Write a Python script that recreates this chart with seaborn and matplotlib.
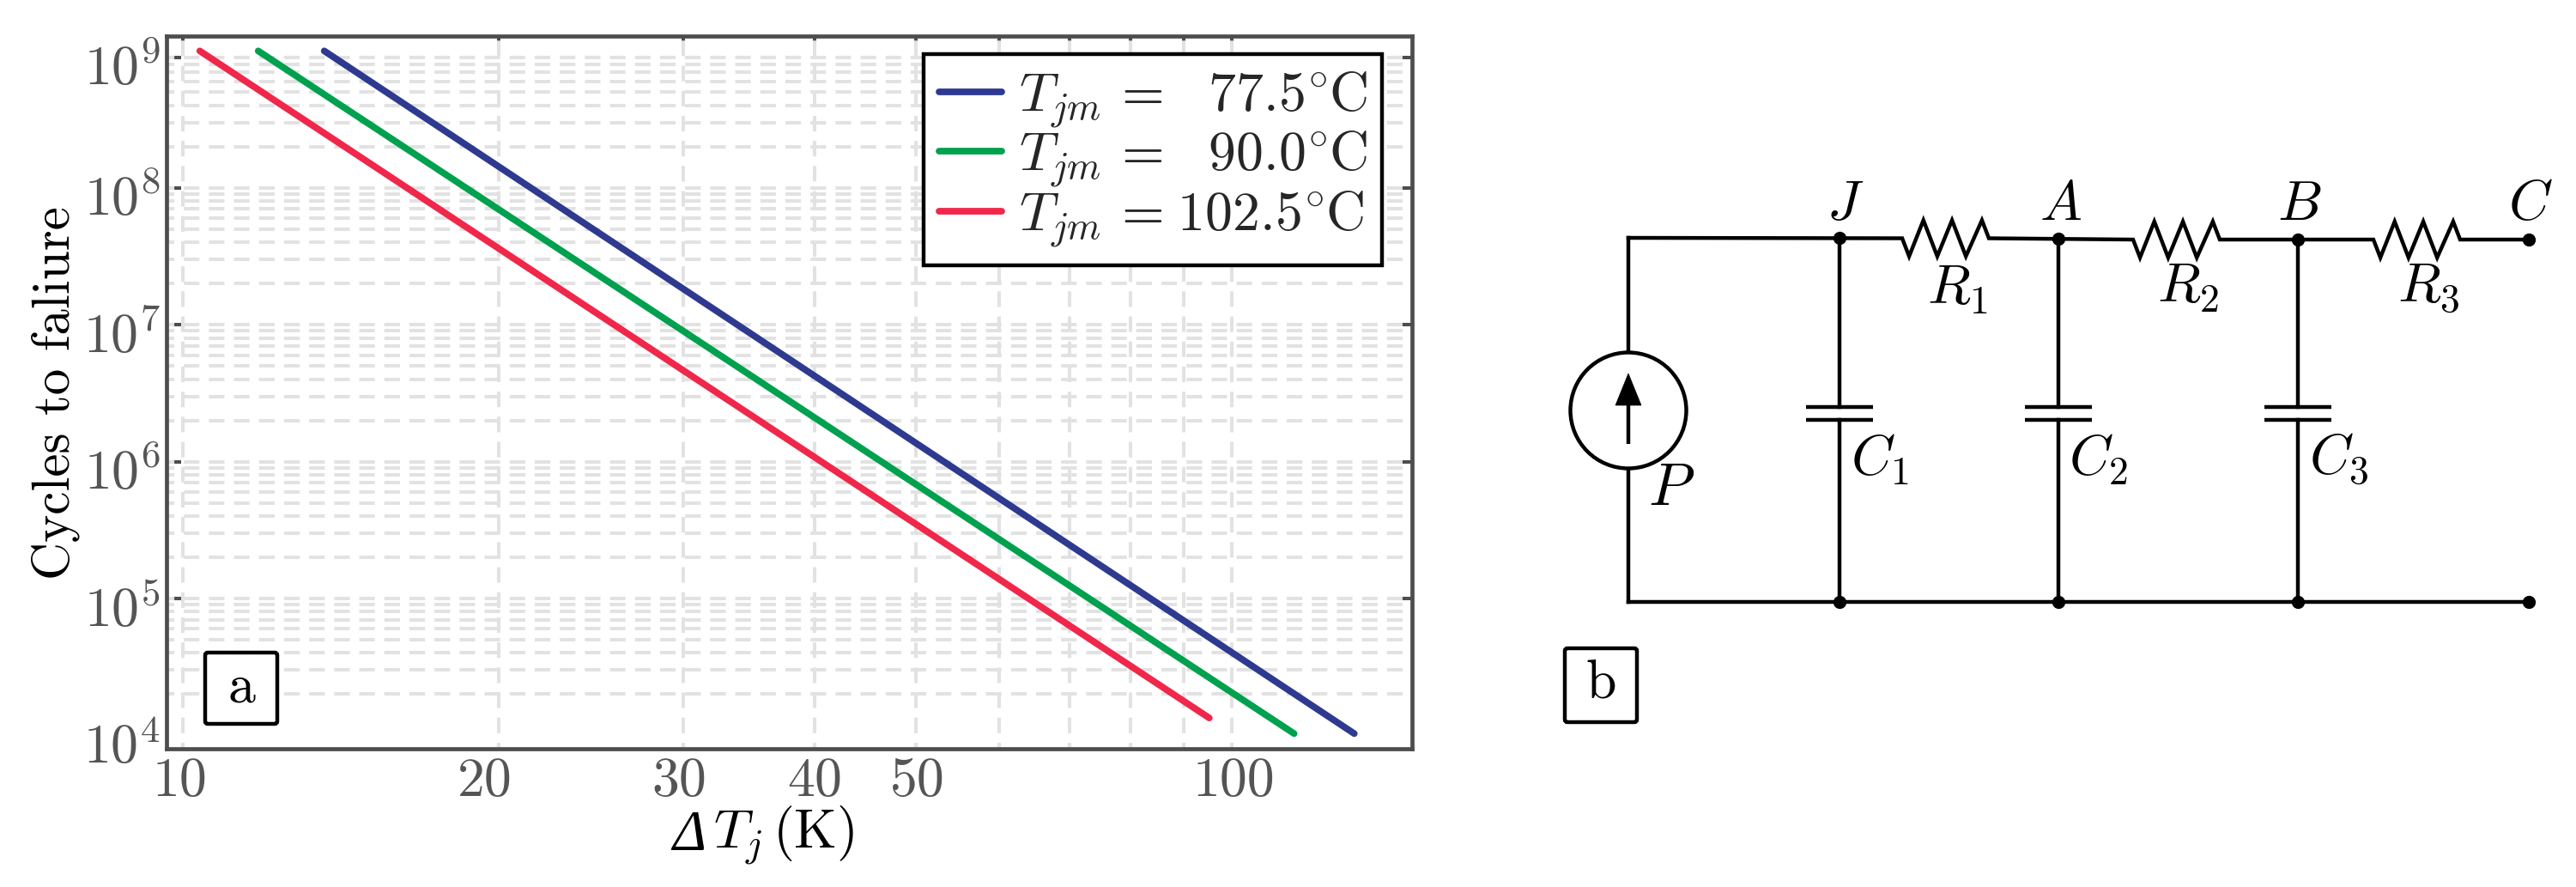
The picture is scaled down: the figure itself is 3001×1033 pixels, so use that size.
import numpy as np
import pandas as pd
import matplotlib
matplotlib.use("Agg")
import matplotlib.pyplot as plt
from matplotlib.patches import FancyBboxPatch, Circle, Polygon
from matplotlib.transforms import ScaledTranslation
import seaborn as sns

# ---- panel a data
series_names = [r"$T_{jm}\,=\hspace{0.72}77.5^{\circ}\hspace{-0.04}\mathrm{C}$",
                r"$T_{jm}\,=\hspace{0.72}90.0^{\circ}\hspace{-0.04}\mathrm{C}$",
                r"$T_{jm}\,=\hspace{0.08}102.5^{\circ}\hspace{-0.04}\mathrm{C}$"]
series_colors = ["#2e3a8f", "#00a14e", "#f0274a"]
dT_blue = [13.63, 130.9]
dT_green = [11.79, 114.7]
dT_red = [10.37, 95.2]
N_blue = [1.0e9, 1.03e4]
N_green = [1.0e9, 1.03e4]
N_red = [1.0e9, 1.34e4]

x_major = [10, 20, 30, 40, 50, 100]
x_major_labels = ["10", "20", "30", "40", "50", "100"]
x_label_shift_px = [-4, -16, -5, 0, 2, 2]
x_minor = [60, 70, 80, 90]
y_major = [9e8, 1e8, 1e7, 1e6, 1e5, 1e4]
y_major_labels = [r"$10^{9}$", r"$10^{8}$", r"$10^{7}$", r"$10^{6}$", r"$10^{5}$", r"$10^{4}$"]

# ---- panel b schematic nodes (pixel space of the figure)
W = 3001; H = 1033
node_x = {"L": 1897, "J": 2143, "A": 2398, "B": 2677, "C": 2946}
top_y = {"L": 277, "J": 277, "A": 278, "B": 279, "C": 279}
bottom_y = 701
plate_y = (474, 489)
res_spans = [(2216, 2317, 277.5), (2485, 2586, 279), (2765, 2866, 279)]

sns.set_theme(style="white")
plt.rcParams["mathtext.fontset"] = "cm"
plt.rcParams["font.family"] = ["cmr10", "DejaVu Sans"]
plt.rcParams["axes.unicode_minus"] = False
plt.rcParams["axes.formatter.use_mathtext"] = True

GREY = "#4d4d4d"
TICKTXT = "#555555"
FS = 46

fig = plt.figure(figsize=(W / 100, H / 100), dpi=100, facecolor="white")
ax = fig.add_axes([194 / W, 1 - 872.3 / H, (1645 - 194) / W, (872.3 - 42) / H])

df = pd.DataFrame({
    "dT": dT_blue + dT_green + dT_red,
    "N": N_blue + N_green + N_red,
    "series": [series_names[0]] * 2 + [series_names[1]] * 2 + [series_names[2]] * 2,
})
ax.set_xscale("log")
ax.set_yscale("log")
sns.lineplot(data=df, x="dT", y="N", hue="series", hue_order=series_names,
             palette=series_colors, estimator=None, sort=False, ax=ax,
             lw=5.6, solid_capstyle="round", zorder=5)
ax.set_xlim(9.64, 148.6)
ax.set_ylim(7.95e3, 1.284e9)

# ticks
ax.set_xticks(x_major, x_major_labels, fontsize=FS, color=TICKTXT)
ax.set_xticks(x_minor, minor=True)
ax.set_xticklabels([], minor=True)
ax.set_yticks(y_major, y_major_labels, fontsize=FS, color=TICKTXT)
ax.yaxis.set_minor_locator(matplotlib.ticker.FixedLocator([]))
ax.tick_params(axis="x", which="both", direction="in", length=4.5, width=2.9, color=GREY,
               top=True, bottom=True, pad=7)
ax.tick_params(axis="y", which="major", direction="in", length=12, width=2.9, color=GREY,
               left=True, right=True, pad=5)
for t in ax.yaxis.get_major_ticks():
    if abs(t.get_loc() - 1e4) < 1:
        t.tick1line.set_visible(False)
        t.tick2line.set_visible(False)

# per-label nudges seen in the reference
for lab, dx in zip(ax.get_xticklabels(), x_label_shift_px):
    lab.set_transform(lab.get_transform() + ScaledTranslation(dx / 100, 0, fig.dpi_scale_trans))
for lab in ax.get_yticklabels():
    lab.set_transform(lab.get_transform() + ScaledTranslation(0, -9 / 100, fig.dpi_scale_trans))

# dashed grid, drawn with the axes' own transforms
grid_kw = dict(color="#e2e2e2", lw=2.9, zorder=1, dash_capstyle="butt")
for d in range(4, 9):
    for m in range(2 if d == 4 else 1, 10):
        ax.axhline(m * 10.0 ** d, ls=(2.25, (4.5, 2.75)), **grid_kw)
for v in x_major + x_minor:
    ax.axvline(v, ls=(2.75, (4.5, 2.75)), **grid_kw)
ax.set_axisbelow(True)

for s in ax.spines.values():
    s.set_color(GREY)
    s.set_linewidth(3.4)

ax.set_ylabel("Cycles to faliure", fontsize=44, color="black", labelpad=2.5)
ax.set_xlabel("")

h, l = ax.get_legend_handles_labels()
for hh in h:
    hh.set_solid_capstyle("round")
    hh.set_linewidth(5.6)
leg = ax.legend(h, l, loc="upper left", bbox_to_anchor=((1076 - 194) / 1451, 1 - (63 - 42) / 830.3),
                fontsize=46, frameon=True, fancybox=False, framealpha=1, edgecolor="black",
                handlelength=1.15, handletextpad=0.3, labelspacing=-0.02, borderpad=0.28,
                borderaxespad=0)
leg.get_frame().set_linewidth(3.2)
leg.set_zorder(10)

# overlay in figure pixels for panel labels and the schematic
ov = fig.add_axes([0, 0, 1, 1], facecolor="none", zorder=20)
ov.set_xlim(0, W)
ov.set_ylim(H, 0)
ov.axis("off")

# x axis title: italic Delta followed by the math part
ov.text(803, 973, "\u0394", family=["Liberation Serif"], style="italic", fontsize=48,
        color="black", ha="center", va="center")
ov.text(831, 973, r"$T_j\,(\mathrm{K})$", fontsize=46, color="black", ha="left", va="center")

wire = dict(color="black", lw=3.2, solid_capstyle="projecting", solid_joinstyle="miter")
L, J, A, B, C = (node_x[k] for k in "LJABC")

# panel boxes
for (x0, y0, x1, y1, txt) in [(239, 760, 323, 843, "a"), (1823, 755, 1907, 841, "b")]:
    ov.add_patch(FancyBboxPatch((x0 + 3, y0 + 3), x1 - x0 - 6, y1 - y0 - 6,
                                boxstyle="round,pad=3,rounding_size=3", fc="white", ec="black", lw=3.2))
    ov.text((x0 + x1) / 2, (y0 + y1) / 2, txt, fontsize=46, color="black", ha="center", va="center")

# top rail and resistors
xs = [L]
ys = [top_y["L"]]
zig_frac = [0.0, 0.08, 0.245, 0.405, 0.575, 0.735, 0.92, 1.0]
zig_amp = [0, 21, -21, 21, -21, 21, -21, 0]
for (x0, x1, yc) in res_spans:
    xs += [x0 + f * (x1 - x0) for f in zig_frac]
    ys += [yc + a for a in zig_amp]
xs.append(C)
ys.append(top_y["C"])
ov.plot(xs, ys, **wire)
ov.plot([L, L], [top_y["L"], 410], **wire)
ov.plot([L, L], [546, bottom_y], **wire)
ov.plot([L, C], [bottom_y, bottom_y], **wire)

# branches with capacitors
for k in "JAB":
    x = node_x[k]
    ov.plot([x, x], [top_y[k], plate_y[0]], **wire)
    ov.plot([x, x], [plate_y[1], bottom_y], **wire)
    for p in plate_y:
        ov.plot([x - 39, x + 39], [p, p], color="black", lw=3.2, solid_capstyle="butt")
    ov.plot([x, x], [top_y[k], bottom_y], ls="none", marker="o", ms=10, color="black")
ov.plot([C, C], [top_y["C"], bottom_y], ls="none", marker="o", ms=10, color="black")

# source
ov.add_patch(Circle((L, 478), 67.5, fc="white", ec="black", lw=3.2, zorder=3))
ov.plot([L, L], [465, 517], color="black", lw=3.2, zorder=4, solid_capstyle="butt")
ov.add_patch(Polygon([(L, 435), (L - 15, 472), (L + 15, 472)], closed=True, fc="black", ec="black", lw=0.5, zorder=4))

# labels
labels = [("J", 2150, 240), ("A", 2401, 240), ("B", 2679, 240), ("C", 2948, 240),
          ("R_1", 2280, 338), ("R_2", 2549, 336), ("R_3", 2829, 336),
          ("C_1", 2190, 535), ("C_2", 2445, 535), ("C_3", 2725, 535), ("P", 1947, 570)]
for s, x, y in labels:
    ov.text(x, y, f"${s}$", fontsize=50 if s == "P" else 47, color="black", ha="center", va="center")

fig.savefig("out.png", dpi=100, facecolor="white")
